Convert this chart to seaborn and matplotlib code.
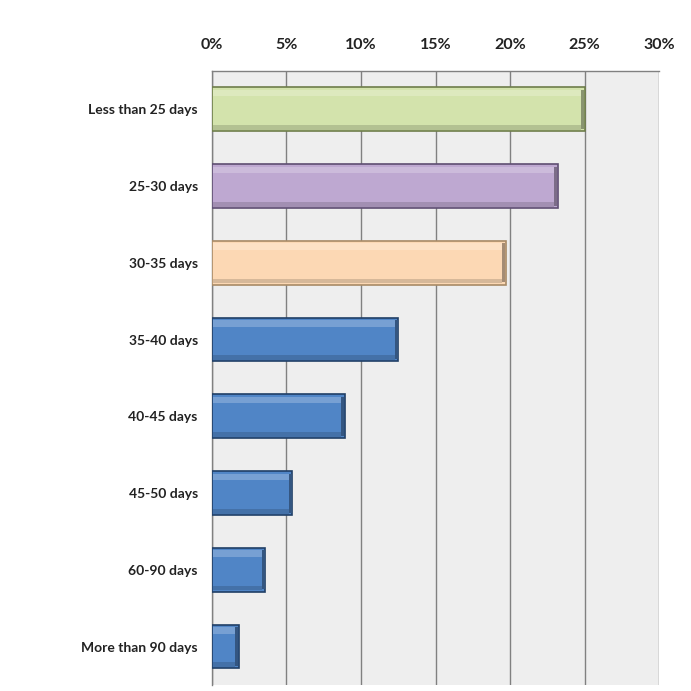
import matplotlib
matplotlib.use("Agg")
import matplotlib.pyplot as plt
import matplotlib.colors as mcolors
from matplotlib.patches import Rectangle
import seaborn as sns
import pandas as pd
from matplotlib.ticker import FuncFormatter

categories = ["Less than 25 days", "25-30 days", "30-35 days", "35-40 days",
              "40-45 days", "45-50 days", "60-90 days", "More than 90 days"]
values = [25.0, 23.2, 19.7, 12.5, 8.9, 5.4, 3.6, 1.8]
bar_colors = ["#D3E3AC", "#BEA8D1", "#FCD8B4", "#5085C6",
              "#5085C6", "#5085C6", "#5085C6", "#5085C6"]
edge_colors = ["#6E7D4A", "#5E4E72", "#A88A66", "#203F66",
               "#203F66", "#203F66", "#203F66", "#203F66"]
xticks = [0, 5, 10, 15, 20, 25, 30]

sns.set_theme(style="white")
plt.rcParams['font.family'] = ['Lato', 'DejaVu Sans']

df = pd.DataFrame({"cat": categories, "val": values})

fig = plt.figure(figsize=(6.91, 6.91), dpi=100)
ax = fig.add_axes([0.3064, 0.0087, 0.6478, 0.8886])
ax.set_facecolor("#EEEEEE")

sns.barplot(data=df, y="cat", x="val", hue="cat", palette=bar_colors,
            legend=False, width=0.57, ax=ax, saturation=1)


def mix(c, other, t):
    a = mcolors.to_rgb(c)
    b = mcolors.to_rgb(other)
    return tuple(a[i] * (1 - t) + b[i] * t for i in range(3))


patches = list(ax.patches)
for p, fc, ec in zip(patches, bar_colors, edge_colors):
    p.set_edgecolor(ec)
    p.set_linewidth(1.2)
    p.set_zorder(3)
    x0, y0 = p.get_x(), p.get_y()
    w, h = p.get_width(), p.get_height()
    # soft bevel: light strip on top, darker strip at bottom, dark right end
    ax.add_patch(Rectangle((x0 + 0.06, y0 + 0.03), max(w - 0.3, 0), h * 0.15,
                           facecolor=mix(fc, "white", 0.22), edgecolor="none", zorder=4))
    ax.add_patch(Rectangle((x0 + 0.06, y0 + h * 0.86), max(w - 0.3, 0), h * 0.11,
                           facecolor=mix(fc, "black", 0.15), edgecolor="none", zorder=4))
    ax.add_patch(Rectangle((x0 + w - 0.24, y0 + 0.03), 0.21, h - 0.06,
                           facecolor=mix(fc, "black", 0.35), edgecolor="none", zorder=4))

ax.set_xlim(0, 30)
ax.set_xticks(xticks)
ax.xaxis.set_major_formatter(FuncFormatter(lambda v, _: f"{int(v)}%"))
ax.xaxis.tick_top()
ax.xaxis.set_label_position("top")
ax.set_xlabel("")
ax.set_ylabel("")
ax.grid(axis="x", color="#808080", linewidth=1.0)
ax.set_axisbelow(True)
ax.tick_params(axis="x", length=0, pad=14, labelsize=11.5, colors="#222222")
ax.tick_params(axis="y", length=0, pad=10, labelsize=10, colors="#222222")
for lbl in ax.get_xticklabels() + ax.get_yticklabels():
    lbl.set_fontweight("bold")

for s in ["right", "bottom"]:
    ax.spines[s].set_visible(False)
ax.spines["top"].set_color("#808080")
ax.spines["left"].set_color("#808080")
ax.spines["top"].set_linewidth(1.0)
ax.spines["left"].set_linewidth(1.0)

fig.savefig("out.png", dpi=100, facecolor="white")
